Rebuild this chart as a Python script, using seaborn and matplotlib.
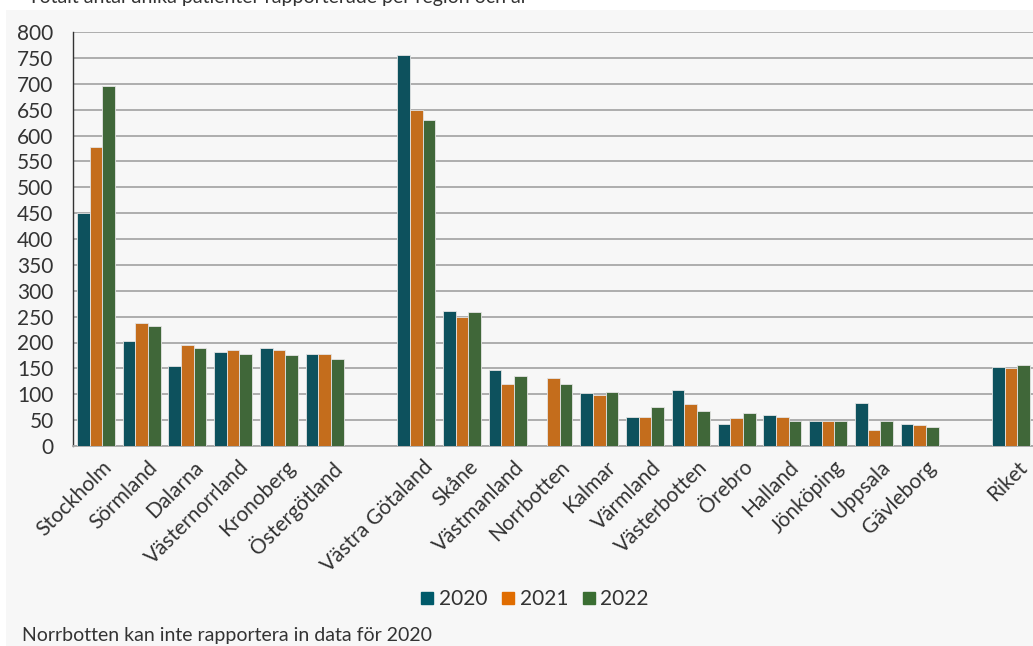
import seaborn as sns
import matplotlib.pyplot as plt
import matplotlib.patches as mpatches
import matplotlib.transforms as mtransforms
from matplotlib.lines import Line2D
import numpy as np
import pandas as pd

# Data (blank names are the gaps between groups)
regions = ['Stockholm', 'Sörmland', 'Dalarna', 'Västernorrland', 'Kronoberg', 'Östergötland', ' ',
           'Västra Götaland', 'Skåne', 'Västmanland', 'Norrbotten', 'Kalmar', 'Värmland',
           'Västerbotten', 'Örebro', 'Halland', 'Jönköping', 'Uppsala', 'Gävleborg', '  ',
           'Riket']
years = ['2020', '2021', '2022']
v2020 = [450, 203, 155, 182, 189, 178, np.nan,
         756, 261, 147, np.nan, 102, 57, 108, 43, 59, 48, 83, 43, np.nan,
         153]
v2021 = [578, 237, 196, 186, 186, 178, np.nan,
         650, 250, 120, 131, 98, 57, 81, 54, 56, 48, 30, 40, np.nan,
         151]
v2022 = [696, 232, 190, 177, 175, 169, np.nan,
         629, 258, 135, 120, 104, 75, 68, 63, 48, 48, 48, 36, np.nan,
         156]
colors = ['#005a6a', '#e06c00', '#3a6e32']

rows = []
for yr, vals in zip(years, [v2020, v2021, v2022]):
    for r, v in zip(regions, vals):
        rows.append({'region': r, 'year': yr, 'value': v})
df = pd.DataFrame(rows).dropna()

sns.set_style('white')
plt.rcParams['font.family'] = ['Lato', 'DejaVu Sans']
txt = '#333333'

fig = plt.figure(figsize=(10.33, 6.46), dpi=100, facecolor='white')
# light gray panel behind everything
fig.patches.append(mpatches.Rectangle((6 / 1033, 0), 1, 1 - 10 / 646, transform=fig.transFigure,
                                      facecolor='#f7f7f7', edgecolor='none', zorder=-5))
ax = fig.add_axes([73 / 1033, 1 - 446 / 646, 961 / 1033, 414 / 646])
ax.set_facecolor('#f7f7f7')

sns.barplot(data=df, x='region', y='value', hue='year', order=regions, hue_order=years,
            palette=colors, width=0.83, gap=0, edgecolor='#e4e4e4', linewidth=0.6,
            errorbar=None, ax=ax, legend=False, zorder=3)

ax.set_ylim(0, 800)
ax.set_xlim(-0.5, 20.5)
ax.set_yticks(range(0, 801, 50))
ax.yaxis.grid(True, color='#a8a8a8', linewidth=1.3, zorder=0)
ax.set_axisbelow(True)
ax.set_xlabel('')
ax.set_ylabel('')
for s in ['top', 'right']:
    ax.spines[s].set_visible(False)
ax.spines['left'].set_color('#333333')
ax.spines['left'].set_linewidth(1.0)
ax.spines['bottom'].set_color('#a8a8a8')
ax.spines['bottom'].set_linewidth(1.3)
ax.tick_params(axis='y', direction='in', length=5, width=1, color='#333333',
               labelsize=15, labelcolor=txt, pad=14)
ax.tick_params(axis='x', length=0, labelsize=15, labelcolor=txt, pad=8)
shift = mtransforms.ScaledTranslation(6 / 100, 0, fig.dpi_scale_trans)
for lab in ax.get_xticklabels():
    lab.set_rotation(45)
    lab.set_ha('right')
    lab.set_rotation_mode('anchor')
    lab.set_transform(lab.get_transform() + shift)

handles = [Line2D([], [], marker='s', linestyle='none', markersize=9, color=c) for c in colors]
fig.legend(handles, years, loc='center', bbox_to_anchor=(0.518, 1 - 599 / 646), ncol=3,
           frameon=False, fontsize=15, handlelength=0.6, handletextpad=0.25, columnspacing=0.7,
           labelcolor=txt)

fig.text(22 / 1033, 1 - 636 / 646, 'Norrbotten kan inte rapportera in data för 2020',
         fontsize=14, color=txt, va='center', ha='left')
# title at the very top, mostly cut off in the original
fig.text(28 / 1033, 1 + 2 / 646, 'Totalt antal unika patienter rapporterade per region och år',
         fontsize=14, color=txt, va='center', ha='left')

fig.savefig('out.png', dpi=100, facecolor='white')
